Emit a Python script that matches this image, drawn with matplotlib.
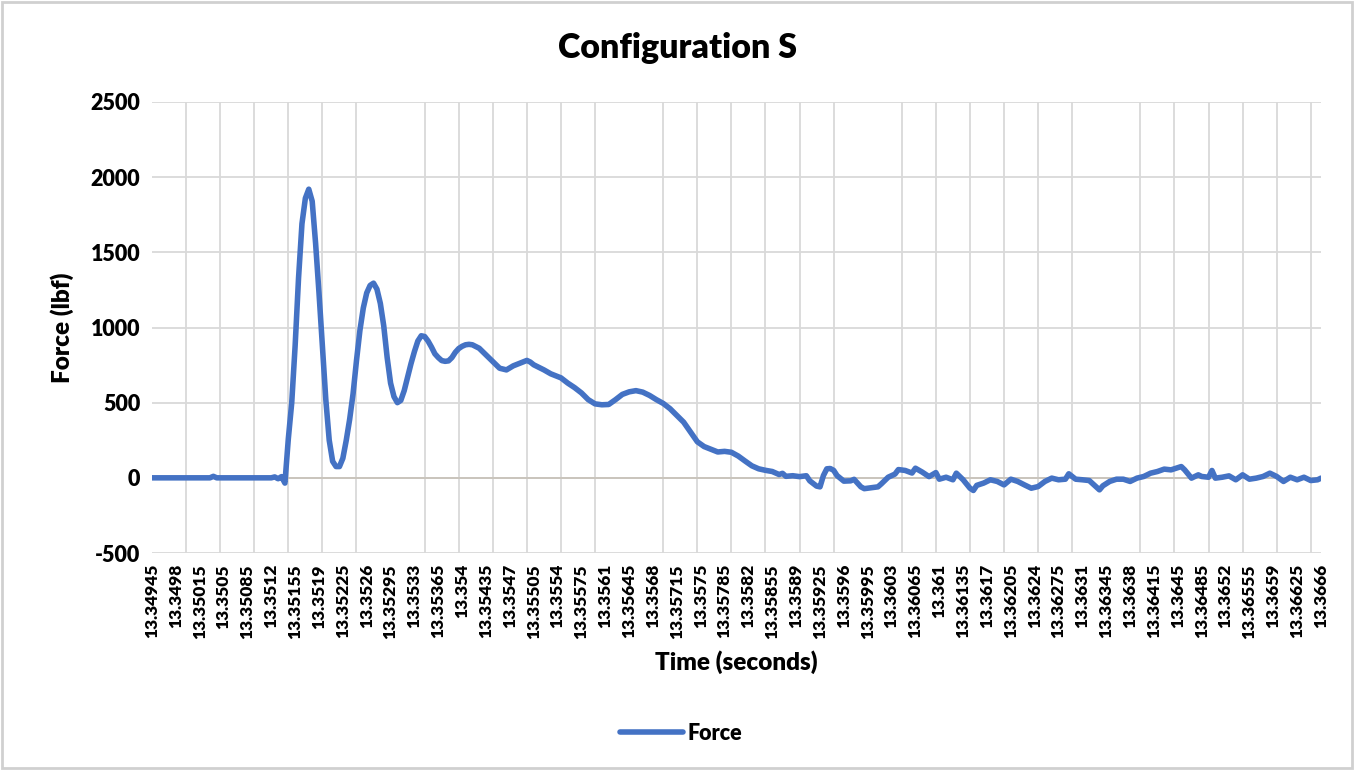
import matplotlib
matplotlib.use("Agg")
import matplotlib.pyplot as plt
from matplotlib.patches import Rectangle
import numpy as np

# ---- data ----
time_s = [
    13.34945, 13.35030, 13.35035, 13.35040, 13.35120, 13.35125, 13.35130, 13.35135,
    13.35140, 13.35145, 13.35150, 13.35155, 13.35160, 13.35165, 13.35170, 13.35175,
    13.35180, 13.35185, 13.35190, 13.35195, 13.35200, 13.35205, 13.35210, 13.35215,
    13.35220, 13.35225, 13.35230, 13.35235, 13.35240, 13.35245, 13.35250, 13.35255,
    13.35260, 13.35265, 13.35270, 13.35275, 13.35280, 13.35285, 13.35290, 13.35295,
    13.35300, 13.35305, 13.35310, 13.35315, 13.35320, 13.35325, 13.35330, 13.35335,
    13.35340, 13.35345, 13.35350, 13.35355, 13.35360, 13.35365, 13.35370, 13.35375,
    13.35380, 13.35385, 13.35390, 13.35395, 13.35400, 13.35405, 13.35410, 13.35415,
    13.35425, 13.35435, 13.35445, 13.35455, 13.35465, 13.35475, 13.35485, 13.35495,
    13.35500, 13.35505, 13.35520, 13.35530, 13.35545, 13.35555, 13.35560, 13.35565,
    13.35575, 13.35585, 13.35595, 13.35605, 13.35615, 13.35625, 13.35635, 13.35645,
    13.35655, 13.35665, 13.35675, 13.35685, 13.35695, 13.35705, 13.35715, 13.35725,
    13.35735, 13.35745, 13.35755, 13.35765, 13.35775, 13.35785, 13.35795, 13.35805,
    13.35815, 13.35825, 13.35835, 13.35845, 13.35855, 13.35865, 13.35870, 13.35875,
    13.35885, 13.35895, 13.35905, 13.35910, 13.35920, 13.35925, 13.35930, 13.35935,
    13.35940, 13.35945, 13.35950, 13.35960, 13.35970, 13.35975, 13.35985, 13.35990,
    13.36000, 13.36010, 13.36015, 13.36025, 13.36035, 13.36040, 13.36050, 13.36060,
    13.36065, 13.36075, 13.36085, 13.36095, 13.36100, 13.36110, 13.36120, 13.36125,
    13.36135, 13.36145, 13.36150, 13.36155, 13.36165, 13.36175, 13.36185, 13.36195,
    13.36205, 13.36215, 13.36225, 13.36235, 13.36245, 13.36255, 13.36265, 13.36275,
    13.36285, 13.36290, 13.36300, 13.36310, 13.36320, 13.36335, 13.36340, 13.36350,
    13.36360, 13.36370, 13.36380, 13.36390, 13.36400, 13.36410, 13.36420, 13.36430,
    13.36440, 13.36455, 13.36460, 13.36470, 13.36480, 13.36485, 13.36495, 13.36500,
    13.36505, 13.36515, 13.36525, 13.36535, 13.36545, 13.36555, 13.36565, 13.36575,
    13.36585, 13.36595, 13.36605, 13.36615, 13.36625, 13.36635, 13.36645, 13.36655,
    13.36660,
]

force_lbf = [
    0, 0, 10, 0, 0, 6, -6, 8,
    -35, 260, 500, 880, 1330, 1690, 1860, 1920,
    1840, 1560, 1230, 880, 520, 250, 110, 75,
    75, 130, 250, 390, 560, 780, 980, 1130,
    1230, 1280, 1295, 1255, 1160, 1010, 800, 630,
    540, 500, 515, 580, 670, 760, 840, 910,
    945, 940, 910, 870, 825, 800, 780, 775,
    778, 800, 835, 860, 875, 885, 888, 885,
    862, 818, 774, 729, 718, 745, 763, 781,
    770, 752, 718, 692, 665, 630, 615, 600,
    565, 520, 492, 486, 488, 520, 555, 572,
    580, 570, 548, 520, 495, 460, 415, 370,
    305, 240, 208, 190, 172, 176, 170, 145,
    112, 80, 60, 50, 42, 22, 30, 10,
    14, 8, 14, -20, -55, -60, 15, 60,
    62, 50, 15, -22, -20, -10, -60, -72,
    -66, -60, -40, 4, 25, 55, 49, 32,
    64, 38, 8, 35, -9, 4, -13, 31,
    -13, -69, -84, -50, -35, -13, -24, -47,
    -9, -24, -47, -69, -58, -24, -2, -13,
    -9, 27, -9, -13, -18, -80, -53, -24,
    -9, -9, -24, -2, 9, 31, 42, 58,
    53, 75, 53, -2, 20, 9, 4, 49,
    -2, 4, 13, -13, 20, -9, -2, 9,
    31, 9, -24, 4, -13, 4, -18, -13,
    -2,
]

x_tick_labels = [
    "13.34945", "13.3498", "13.35015", "13.3505", "13.35085", "13.3512", "13.35155",
    "13.3519", "13.35225", "13.3526", "13.35295", "13.3533", "13.35365", "13.354",
    "13.35435", "13.3547", "13.35505", "13.3554", "13.35575", "13.3561", "13.35645",
    "13.3568", "13.35715", "13.3575", "13.35785", "13.3582", "13.35855", "13.3589",
    "13.35925", "13.3596", "13.35995", "13.3603", "13.36065", "13.361", "13.36135",
    "13.3617", "13.36205", "13.3624", "13.36275", "13.3631", "13.36345", "13.3638",
    "13.36415", "13.3645", "13.36485", "13.3652", "13.36555", "13.3659", "13.36625",
    "13.3666",
]
y_tick_labels = ["-500", "0", "500", "1000", "1500", "2000", "2500"]
series_name = "Force"
title_text = "Configuration S"
x_title = "Time (seconds)"
y_title = "Force (lbf)"

# ---- styling ----
FONT = ["Lato", "DejaVu Sans"]
plt.rcParams["font.family"] = FONT
BLUE = "#4472C4"
GRID = "#D9D9D9"

W, H = 1354, 770
fig = plt.figure(figsize=(W / 100, H / 100), dpi=100)
fig.patch.set_facecolor("white")

left, right, top, bottom = 152, 1321, 102, 553
ax = fig.add_axes([left / W, 1 - bottom / H, (right - left) / W, (bottom - top) / H])

xticks = [float(s) for s in x_tick_labels]
yticks = [float(s) for s in y_tick_labels]

ax.plot(time_s, force_lbf, color=BLUE, lw=4.0, solid_joinstyle="round",
        solid_capstyle="round", label=series_name, zorder=3)

ax.set_xlim(xticks[0], xticks[-1])
ax.set_ylim(yticks[0], yticks[-1])

# vertical gridlines every 0.0005 s (every 10 samples)
grid_x = np.arange(xticks[0], xticks[-1] + 1e-9, 0.0005)
ax.set_xticks(grid_x, minor=True)
ax.set_xticks(xticks)
ax.set_xticklabels(x_tick_labels, rotation=90, fontsize=12.5, fontweight="heavy")
ax.set_yticks(yticks)
ax.set_yticklabels(y_tick_labels, fontsize=15.5, fontweight="heavy")

ax.tick_params(axis="x", which="both", length=0, pad=8)
ax.tick_params(axis="y", length=0, pad=8.5)
ax.grid(True, which="minor", axis="x", color=GRID, lw=1.3)
ax.grid(True, which="major", axis="y", color=GRID, lw=1.3)
ax.grid(False, which="major", axis="x")
ax.axhline(0, color="#C9C3BA", lw=1.3, zorder=2)
for s in ax.spines.values():
    s.set_visible(False)
ax.set_axisbelow(True)

fig.text(0.5005, 1 - 48 / H, title_text, ha="center", va="center",
         fontsize=24.5, fontweight="heavy")
fig.text(62 / W, 1 - 328 / H, y_title, ha="center", va="center", rotation=90,
         fontsize=17.5, fontweight="heavy")
fig.text(736 / W, 1 - 662 / H, x_title, ha="center", va="center",
         fontsize=17.5, fontweight="heavy")

leg = fig.legend(loc="center", bbox_to_anchor=(681 / W, 1 - 733 / H), frameon=False,
                 handlelength=2.9, handletextpad=0.2,
                 prop={"family": FONT, "weight": "heavy", "size": 15.5})

fig.patches.append(Rectangle((2 / W, 2 / H), 1 - 4 / W, 1 - 4 / H, transform=fig.transFigure,
                             fill=False, edgecolor="#D0D0D0", lw=2))

fig.savefig("out.png", dpi=100)
